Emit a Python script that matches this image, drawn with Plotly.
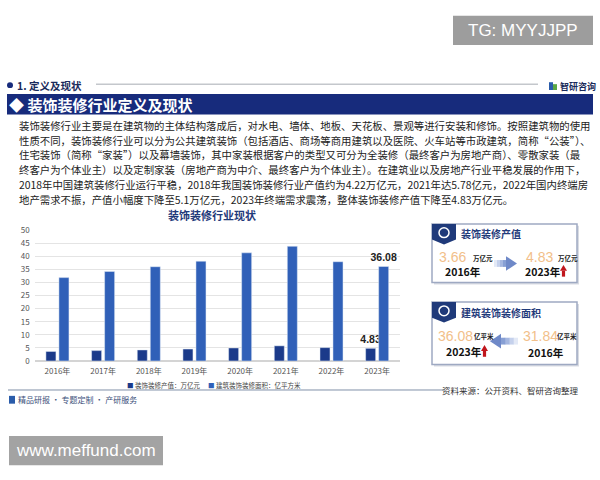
import plotly.graph_objects as go

# ---------------- data ----------------
years = ["2016年", "2017年", "2018年", "2019年", "2020年", "2021年", "2022年", "2023年"]
output_value = [3.66, 3.96, 4.22, 4.55, 4.98, 5.78, 5.1, 4.83]          # 装饰装修产值：万亿元
decor_area = [31.84, 34.2, 36.0, 38.1, 41.3, 43.8, 37.9, 36.08]         # 建筑装饰装修面积：亿平方米
series_names = ["装饰装修产值：万亿元", "建筑装饰装修面积：亿平方米"]
y_ticks = [0, 5, 10, 15, 20, 25, 30, 35, 40, 45, 50]

paragraph = [
    "装饰装修行业主要是在建筑物的主体结构落成后，对水电、墙体、地板、天花板、景观等进行安装和修饰。按照建筑物的使用",
    "性质不同，装饰装修行业可以分为公共建筑装饰（包括酒店、商场等商用建筑以及医院、火车站等市政建筑，简称“公装”）、",
    "住宅装饰（简称“家装”）以及幕墙装饰，其中家装根据客户的类型又可分为全装修（最终客户为房地产商）、零散家装（最",
    "终客户为个体业主）以及定制家装（房地产商为中介、最终客户为个体业主）。在建筑业以及房地产行业平稳发展的作用下，",
    "2018年中国建筑装修行业运行平稳，2018年我国装饰装修行业产值约为4.22万亿元，2021年达5.78亿元，2022年国内终端房",
    "地产需求不振，产值小幅度下降至5.1万亿元，2023年终端需求震荡，整体装饰装修产值下降至4.83万亿元。",
]

C1 = "#1b3a8a"
C2 = "#3060b8"
NAVY = "#172b7c"
CJK = "Noto Sans CJK SC"
LAT = "Liberation Sans"

W, H = 600, 480
def X(x): return x / W
def Y(y): return 1 - y / H

shapes, anns = [], []

def rect(x0, y0, x1, y1, fill, line=None, lw=0, layer="below"):
    shapes.append(dict(type="rect", xref="paper", yref="paper", x0=X(x0), x1=X(x1),
                       y0=Y(y1), y1=Y(y0), fillcolor=fill, layer=layer,
                       line=dict(color=line if line else fill, width=lw)))

def poly(pts, fill, layer="above"):
    d = "M " + " L ".join(f"{X(a):.5f},{Y(b):.5f}" for a, b in pts) + " Z"
    shapes.append(dict(type="path", xref="paper", yref="paper", path=d,
                       fillcolor=fill, line=dict(width=0), layer=layer))

def line(x0, y0, x1, y1, color, w=1):
    shapes.append(dict(type="line", xref="paper", yref="paper", x0=X(x0), x1=X(x1),
                       y0=Y(y0), y1=Y(y1), line=dict(color=color, width=w)))

def ann(x, y, text, size, color="#222", xa="left", ya="middle", family=CJK):
    anns.append(dict(x=X(x), y=Y(y), xref="paper", yref="paper", text=text, showarrow=False,
                     xanchor=xa, yanchor=ya, borderpad=0,
                     font=dict(size=size, color=color, family=family)))

# ---------------- header ----------------
rect(453, 10, 593, 40, "#9d9d9d")
ann(523, 25, "TG: MYYJJPP", 17, "white", xa="center", family=LAT)

shapes.append(dict(type="circle", xref="paper", yref="paper", x0=X(7), x1=X(13), y0=Y(84), y1=Y(78),
                   fillcolor=NAVY, line=dict(width=0)))
ann(16, 81, "<b>1. 定义及现状</b>", 10.5, "#1a2a5a")
line(96, 80, 538, 80, "#c4c7cc", 1.5)
rect(549, 78, 553, 86, "#2a5caa", layer="above")
rect(553, 80, 557, 86, "#5aa845", layer="above")
ann(559, 82, "<b>智研咨询</b>", 9, "#1a2a5a")

rect(7, 90, 593, 111, NAVY)
ann(8, 101, "<b>◆ 装饰装修行业定义及现状</b>", 15, "white")

for i, t in enumerate(paragraph):
    ann(18, 122 + i * 15.2, t, 10.4, "#222")

# ---------------- chart ----------------
ann(212, 214, "<b>装饰装修行业现状</b>", 11, "#1f3a7a", xa="center")

lbl1 = [f"{v:.2f}" if i == len(output_value) - 1 else "" for i, v in enumerate(output_value)]
lbl2 = [f"{v:.2f}" if i == len(decor_area) - 1 else "" for i, v in enumerate(decor_area)]

fig = go.Figure()
fig.add_trace(go.Bar(x=years, y=output_value, name=series_names[0], marker_color=C1,
                     text=lbl1, textposition="outside", cliponaxis=False, constraintext="none",
                     textfont=dict(size=10.5, color="#222", family=LAT)))
fig.add_trace(go.Bar(x=years, y=decor_area, name=series_names[1], marker_color=C2,
                     text=lbl2, textposition="outside", cliponaxis=False, constraintext="none",
                     textfont=dict(size=10.5, color="#222", family=LAT)))
fig.update_traces(texttemplate="<b>%{text}</b>")

# legend (manual)
ann(126, 388, f'<span style="color:{C1}">■</span> {series_names[0]}', 6.5, "#444")
ann(207, 388, f'<span style="color:{C2}">■</span> {series_names[1]}', 6.5, "#444")

line(8, 393, 445, 393, "#8090a8", 1)
rect(9, 399, 15, 407, "#2a5caa", layer="above")
ann(17, 403, "精品研报 · 专题定制 · 产研服务", 8, "#3a4f7a")
ann(580, 393, "资料来源：公开资料、智研咨询整理", 8.5, "#333", xa="right")

# ---------------- right panel ----------------
def card(y0, y1):
    rect(434, y0 + 2, 579, y1 + 2, "#d9dce3")
    rect(432, y0, 577, y1, "white", "#9ea9c2", 1.5)
    poly([(432, y0), (456, y0), (456, y0 + 16), (444, y0 + 21), (432, y0 + 16)], "#1f3a7a")
    shapes.append(dict(type="circle", xref="paper", yref="paper", x0=X(439), x1=X(449),
                       y0=Y(y0 + 14), y1=Y(y0 + 4), fillcolor="rgba(0,0,0,0)",
                       line=dict(color="white", width=1.5)))

def red_up(x, y):
    poly([(x - 3.5, y), (x + 3.5, y), (x, y - 6)], "#c0161d")
    poly([(x - 1.6, y), (x + 1.6, y), (x + 1.6, y + 6), (x - 1.6, y + 6)], "#c0161d")

def blue_arrow(xtail, xtip, yc):
    d = 1 if xtip > xtail else -1
    head = 11
    xb = xtip - d * head
    cols = ["#e3e9f6", "#c5d1ec", "#a5b7e0", "#879fd4"]
    n = len(cols)
    for k, c in enumerate(cols):
        a = xtail + (xb - xtail) * k / n
        b = xtail + (xb - xtail) * (k + 1) / n + d * 0.5
        poly([(a, yc - 3.5), (b, yc - 3.5), (b, yc + 3.5), (a, yc + 3.5)], c)
    poly([(xb, yc - 7.5), (xtip, yc), (xb, yc + 7.5)], "#6f89c8")

card(223, 283)
ann(460, 233, "<b>装饰装修产值</b>", 10, "#1f3a7a")
ann(438, 257, f"{output_value[0]:.2f}", 14, "#f2c08a", family=LAT)
ann(472, 258, "<b>万亿元</b>", 6.5, "#222")
ann(444, 272, "<b>2016年</b>", 10.5, "#111")
blue_arrow(494, 517, 263.5)
ann(525, 257, f"{output_value[-1]:.2f}", 14, "#f2c08a", family=LAT)
ann(557, 258, "<b>万亿元</b>", 6.5, "#222")
ann(524, 272, "<b>2023年</b>", 10.5, "#111")
red_up(563.5, 271)

card(303, 367)
ann(460, 314, "<b>建筑装饰装修面积</b>", 10, "#1f3a7a")
ann(437, 338, f"{decor_area[-1]:.2f}", 14, "#f2c08a", family=LAT)
ann(473, 338, "<b>亿平米</b>", 6.5, "#222")
blue_arrow(518, 490, 343)
ann(522, 338, f"{decor_area[0]:.2f}", 14, "#f2c08a", family=LAT)
ann(556, 338, "<b>亿平米</b>", 6.5, "#222")
ann(445, 354, "<b>2023年</b>", 10.5, "#111")
red_up(484.5, 353)
ann(527, 355, "<b>2016年</b>", 10.5, "#111")

# ---------------- footer watermark box ----------------
rect(9, 440, 163, 470, "#a3a3a3")
ann(86, 455, "www.meffund.com", 17, "white", xa="center", family=LAT)

fig.update_layout(
    width=W, height=H, autosize=False,
    margin=dict(l=0, r=0, t=0, b=0),
    paper_bgcolor="white", plot_bgcolor="white",
    showlegend=False,
    barmode="group", bargap=0.43, bargroupgap=0.23,
    shapes=shapes, annotations=anns,
    font=dict(family=CJK),
    xaxis=dict(domain=[X(34.6), X(400)], tickfont=dict(size=8, color="#555"),
               showgrid=False, ticks="", showline=False, ticklabelstandoff=4),
    yaxis=dict(domain=[Y(363.3), Y(229.3)], range=[0, 50], tickvals=y_ticks,
               tickfont=dict(size=8, color="#555"), gridcolor="#e4e4e4",
               zeroline=True, zerolinecolor="#d4d4d4", showline=False, ticks="",
               ticklabelstandoff=4),
)

fig.write_html("out.html")
